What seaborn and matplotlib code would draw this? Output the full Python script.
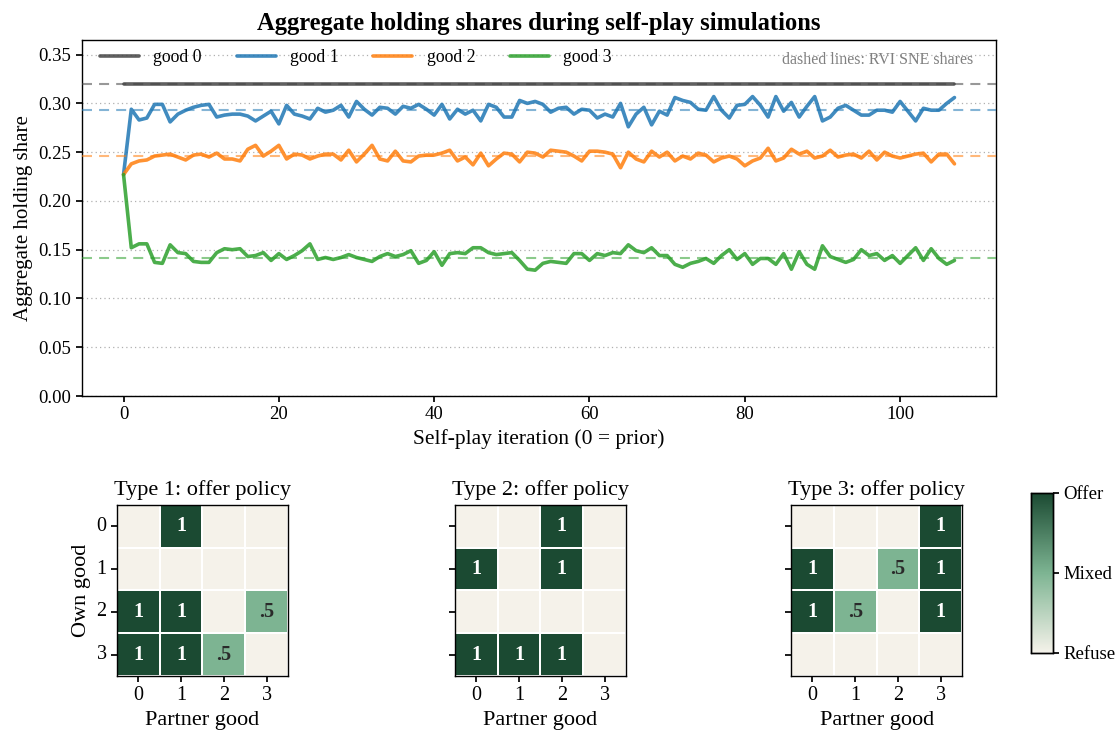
import numpy as np
import pandas as pd
import matplotlib
matplotlib.use("Agg")
import matplotlib.pyplot as plt
import seaborn as sns
from matplotlib.colors import LinearSegmentedColormap

# ---- aggregate holding shares per self-play iteration (0 = prior) ----
good0 = [
    0.320, 0.320, 0.320, 0.320, 0.320, 0.320, 0.320, 0.320, 0.320, 0.320, 0.320, 0.320,
    0.320, 0.320, 0.320, 0.320, 0.320, 0.320, 0.320, 0.320, 0.320, 0.320, 0.320, 0.320,
    0.320, 0.320, 0.320, 0.320, 0.320, 0.320, 0.320, 0.320, 0.320, 0.320, 0.320, 0.320,
    0.320, 0.320, 0.320, 0.320, 0.320, 0.320, 0.320, 0.320, 0.320, 0.320, 0.320, 0.320,
    0.320, 0.320, 0.320, 0.320, 0.320, 0.320, 0.320, 0.320, 0.320, 0.320, 0.320, 0.320,
    0.320, 0.320, 0.320, 0.320, 0.320, 0.320, 0.320, 0.320, 0.320, 0.320, 0.320, 0.320,
    0.320, 0.320, 0.320, 0.320, 0.320, 0.320, 0.320, 0.320, 0.320, 0.320, 0.320, 0.320,
    0.320, 0.320, 0.320, 0.320, 0.320, 0.320, 0.320, 0.320, 0.320, 0.320, 0.320, 0.320,
    0.320, 0.320, 0.320, 0.320, 0.320, 0.320, 0.320, 0.320, 0.320, 0.320, 0.320, 0.320,
]
good1 = [
    0.227, 0.294, 0.283, 0.285, 0.299, 0.299, 0.281, 0.289, 0.293, 0.296, 0.298, 0.299,
    0.286, 0.288, 0.289, 0.289, 0.287, 0.282, 0.287, 0.292, 0.279, 0.298, 0.289, 0.287,
    0.284, 0.295, 0.291, 0.293, 0.298, 0.286, 0.302, 0.294, 0.288, 0.296, 0.295, 0.289,
    0.297, 0.295, 0.299, 0.294, 0.288, 0.299, 0.284, 0.294, 0.289, 0.293, 0.282, 0.299,
    0.296, 0.286, 0.286, 0.303, 0.300, 0.302, 0.299, 0.291, 0.295, 0.296, 0.289, 0.294,
    0.293, 0.285, 0.289, 0.286, 0.300, 0.276, 0.289, 0.296, 0.278, 0.292, 0.288, 0.306,
    0.303, 0.301, 0.294, 0.293, 0.307, 0.293, 0.285, 0.298, 0.299, 0.307, 0.298, 0.286,
    0.307, 0.292, 0.301, 0.286, 0.297, 0.307, 0.282, 0.286, 0.295, 0.298, 0.293, 0.288,
    0.288, 0.293, 0.293, 0.291, 0.302, 0.292, 0.282, 0.295, 0.293, 0.293, 0.300, 0.306,
]
good2 = [
    0.227, 0.238, 0.241, 0.242, 0.246, 0.247, 0.248, 0.245, 0.242, 0.247, 0.248, 0.245,
    0.249, 0.243, 0.243, 0.241, 0.253, 0.257, 0.246, 0.251, 0.257, 0.243, 0.248, 0.247,
    0.243, 0.246, 0.248, 0.248, 0.242, 0.252, 0.240, 0.248, 0.257, 0.243, 0.241, 0.251,
    0.241, 0.240, 0.246, 0.247, 0.247, 0.249, 0.252, 0.241, 0.245, 0.237, 0.249, 0.236,
    0.243, 0.249, 0.248, 0.240, 0.250, 0.249, 0.245, 0.252, 0.251, 0.250, 0.246, 0.241,
    0.251, 0.251, 0.250, 0.248, 0.234, 0.250, 0.243, 0.240, 0.251, 0.245, 0.250, 0.241,
    0.246, 0.243, 0.249, 0.247, 0.240, 0.244, 0.246, 0.243, 0.236, 0.241, 0.244, 0.254,
    0.241, 0.244, 0.253, 0.248, 0.251, 0.244, 0.246, 0.252, 0.245, 0.247, 0.248, 0.244,
    0.251, 0.242, 0.250, 0.246, 0.244, 0.246, 0.248, 0.249, 0.240, 0.248, 0.248, 0.238,
]
good3 = [
    0.227, 0.152, 0.156, 0.156, 0.137, 0.136, 0.155, 0.147, 0.146, 0.138, 0.137, 0.137,
    0.147, 0.151, 0.150, 0.151, 0.143, 0.144, 0.147, 0.139, 0.146, 0.140, 0.144, 0.149,
    0.156, 0.140, 0.142, 0.140, 0.142, 0.145, 0.142, 0.140, 0.138, 0.143, 0.146, 0.143,
    0.145, 0.149, 0.136, 0.139, 0.148, 0.134, 0.146, 0.147, 0.146, 0.152, 0.152, 0.147,
    0.145, 0.146, 0.147, 0.139, 0.130, 0.129, 0.136, 0.138, 0.137, 0.136, 0.146, 0.146,
    0.139, 0.146, 0.144, 0.147, 0.146, 0.155, 0.149, 0.147, 0.152, 0.144, 0.144, 0.135,
    0.132, 0.136, 0.138, 0.141, 0.136, 0.144, 0.150, 0.140, 0.146, 0.135, 0.141, 0.141,
    0.135, 0.146, 0.130, 0.148, 0.135, 0.130, 0.154, 0.143, 0.140, 0.137, 0.140, 0.150,
    0.144, 0.146, 0.139, 0.144, 0.136, 0.144, 0.152, 0.139, 0.151, 0.141, 0.135, 0.139,
]
good_names = ["good 0", "good 1", "good 2", "good 3"]
sne_shares = [0.320, 0.293, 0.246, 0.142]

# ---- offer policies (rows: own good, cols: partner good) ----
policy_type1 = [[0, 1, 0, 0],
                [0, 0, 0, 0],
                [1, 1, 0, 0.5],
                [1, 1, 0.5, 0]]
policy_type2 = [[0, 0, 1, 0],
                [1, 0, 1, 0],
                [0, 0, 0, 0],
                [1, 1, 1, 0]]
policy_type3 = [[0, 0, 0, 1],
                [1, 0, 0.5, 1],
                [1, 0.5, 0, 1],
                [0, 0, 0, 0]]
goods_ticks = ["0", "1", "2", "3"]
policy_titles = ["Type 1: offer policy", "Type 2: offer policy", "Type 3: offer policy"]
cbar_labels = ["Refuse", "Mixed", "Offer"]

sns.set_theme(style="ticks")
plt.rcParams["font.family"] = ["Liberation Serif", "DejaVu Serif"]
plt.rcParams["axes.edgecolor"] = "black"
plt.rcParams["xtick.color"] = "black"
plt.rcParams["ytick.color"] = "black"
plt.rcParams["axes.labelcolor"] = "black"
plt.rcParams["text.color"] = "black"

fig = plt.figure(figsize=(11.17, 7.35), dpi=100)

# ---- top panel: holding shares ----
ax = fig.add_axes([0.0734, 0.4612, 0.8183, 0.4844])
line_colors = ["#444444", "#1f77b4", "#ff7f0e", "#2ca02c"]
n_iter = len(good1)
df = pd.DataFrame({
    "iteration": np.tile(np.arange(n_iter), 4),
    "share": np.concatenate([good0, good1, good2, good3]),
    "good": np.repeat(good_names, n_iter),
})
sns.lineplot(data=df, x="iteration", y="share", hue="good",
             palette=dict(zip(good_names, line_colors)),
             linewidth=2.6, alpha=0.85, ax=ax, legend=False)
for c, s in zip(line_colors, sne_shares):
    ax.axhline(s, color=c, lw=1.5, alpha=0.55, ls=(0, (4.8, 3.4)), zorder=3)

ax.set_ylim(0, 0.365)
ax.set_yticks(np.arange(0, 0.351, 0.05))
ax.set_yticklabels([f"{v:.2f}" for v in np.arange(0, 0.351, 0.05)])
ax.yaxis.grid(True, ls=(0, (1, 2.5)), color="#b0b0b0", lw=0.9)
ax.xaxis.grid(False)
ax.tick_params(labelsize=13.5, length=4)
ax.set_xlabel("Self-play iteration (0 = prior)", fontsize=15.5)
ax.set_ylabel("Aggregate holding share", fontsize=15)
ax.set_title("Aggregate holding shares during self-play simulations",
             fontsize=17.7, fontweight="bold", pad=7)
for sp in ax.spines.values():
    sp.set_visible(True)
    sp.set_linewidth(1.0)

handles = ax.get_lines()[:4]
ax.legend(handles, good_names, loc="upper left", ncol=4, frameon=False,
          fontsize=12.8, handlelength=2.2, handletextpad=0.8, columnspacing=1.95,
          borderaxespad=0.1, bbox_to_anchor=(0.01, 1.0))
ax.text(0.975, 0.944, "dashed lines: RVI SNE shares", transform=ax.transAxes,
        ha="right", va="center", fontsize=11.5, color="#808080")

# ---- bottom panels: offer policies ----
cmap = LinearSegmentedColormap.from_list(
    "offer", ["#f5f2ea", "#7db492", "#1b4a32"])
lefts = [0.1047, 0.4073, 0.7082]
cax = fig.add_axes([0.923, 0.1116, 0.0197, 0.2177])
for i, (pol, title, left) in enumerate(zip(
        [policy_type1, policy_type2, policy_type3], policy_titles, lefts)):
    hax = fig.add_axes([left, 0.0803, 0.1531, 0.2327])
    mat = np.array(pol, dtype=float)
    labels = np.where(mat == 1, "1", np.where(mat == 0.5, ".5", ""))
    last = i == 2
    sns.heatmap(mat, ax=hax, cmap=cmap, vmin=0, vmax=1,
                annot=labels, fmt="", annot_kws={"fontsize": 14.5, "fontweight": "bold"},
                linewidths=1.2, linecolor="white", square=True,
                cbar=last, cbar_ax=cax if last else None,
                xticklabels=goods_ticks,
                yticklabels=goods_ticks if i == 0 else False)
    for t in hax.texts:
        t.set_color("white" if t.get_text() == "1" else "#2a2a2a")
    hax.set_title(title, fontsize=16, pad=7)
    hax.set_xlabel("Partner good", fontsize=16)
    if i == 0:
        hax.set_ylabel("Own good", fontsize=16)
        hax.set_yticklabels(goods_ticks, rotation=0)
    else:
        hax.set_yticks(np.arange(4) + 0.5)
        hax.set_yticklabels([])
    hax.tick_params(labelsize=14.5, length=4)
    for sp in hax.spines.values():
        sp.set_visible(True)
        sp.set_color("black")
        sp.set_linewidth(1.0)

cax.set_yticks([0, 0.5, 1])
cax.set_yticklabels(cbar_labels)
cax.tick_params(labelsize=13.5, length=4)
for sp in cax.spines.values():
    sp.set_visible(True)
    sp.set_color("black")
    sp.set_linewidth(1.0)

fig.savefig("out.png", dpi=100)
